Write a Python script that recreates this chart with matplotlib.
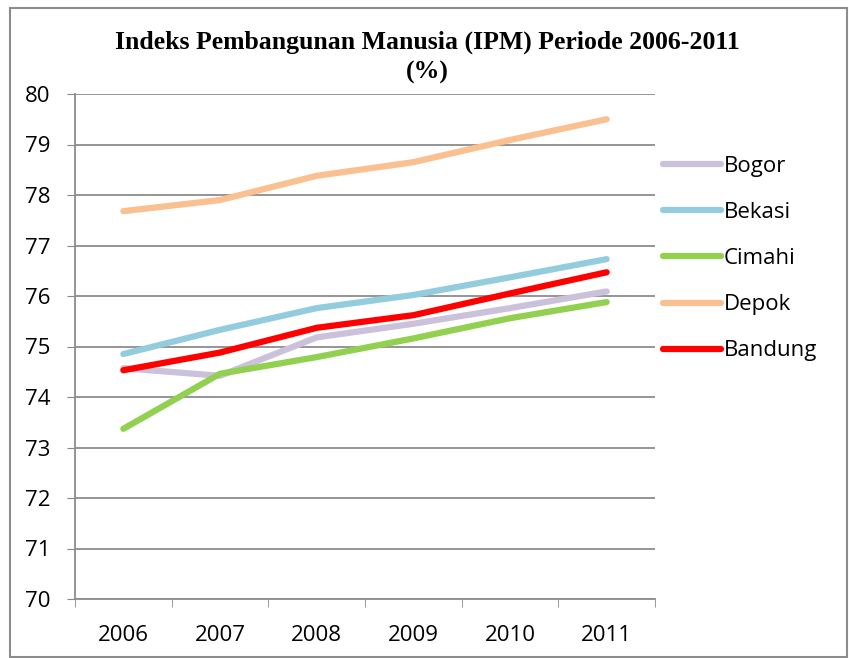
import matplotlib.pyplot as plt
from matplotlib.patches import Rectangle

years = ["2006", "2007", "2008", "2009", "2010", "2011"]
bogor = [74.57, 74.42, 75.18, 75.45, 75.76, 76.09]
bekasi = [74.85, 75.33, 75.76, 76.02, 76.37, 76.73]
cimahi = [73.37, 74.46, 74.79, 75.16, 75.56, 75.88]
depok = [77.68, 77.90, 78.38, 78.65, 79.09, 79.50]
bandung = [74.53, 74.88, 75.37, 75.62, 76.05, 76.47]

series = [("Bogor", bogor, "#CCC1DA"), ("Bekasi", bekasi, "#93CDDD"),
          ("Cimahi", cimahi, "#92D050"), ("Depok", depok, "#FAC090"),
          ("Bandung", bandung, "#FF0000")]

plt.rcParams['font.family'] = ['Open Sans', 'DejaVu Sans']

fig = plt.figure(figsize=(8.49, 6.58), dpi=100)
W, H = 849, 658
ax = fig.add_axes([75 / W, 1 - 599 / H, 580 / W, 505 / H])

x = list(range(len(years)))
for name, vals, col in series:
    ax.plot(x, vals, color=col, lw=4.5, solid_capstyle='round', label=name)

ax.set_xlim(-0.5, 5.5)
ax.set_ylim(70, 80)
ax.set_yticks(range(70, 81))
ax.set_xticks(x)
ax.set_xticklabels(years)
ax.set_xticks([i - 0.5 for i in range(7)], minor=True)
ax.tick_params(axis='x', which='major', length=0, pad=19, labelsize=16)
ax.tick_params(axis='x', which='minor', length=6, color='#888888')
ax.tick_params(axis='y', length=6, color='#888888', labelsize=16, pad=12)
ax.grid(axis='y', color='#8c8c8c', lw=1.3)
ax.set_axisbelow(True)
for s in ['top', 'right']:
    ax.spines[s].set_visible(False)
for s in ['left', 'bottom']:
    ax.spines[s].set_color('#8c8c8c')
    ax.spines[s].set_linewidth(1.3)

fig.text(427 / W, 1 - 42 / H, "Indeks Pembangunan Manusia (IPM) Periode 2006-2011",
         family='Liberation Serif', weight='bold', fontsize=18.5, ha='center', va='center')
fig.text(427 / W, 1 - 72 / H, "(%)", family='Liberation Serif', weight='bold',
         fontsize=18.5, ha='center', va='center')

leg = fig.legend(loc='upper left', bbox_to_anchor=(643 / W, 1 - 136 / H), frameon=False,
                 fontsize=16, handlelength=2.6, handletextpad=0.15, labelspacing=1.13)

fig.patches.append(Rectangle((10 / W, 1 / H), 837 / W, 1 - 9 / H, transform=fig.transFigure,
                             fill=False, edgecolor='#8c8c8c', lw=1.5))

fig.savefig("out.png", dpi=100)
